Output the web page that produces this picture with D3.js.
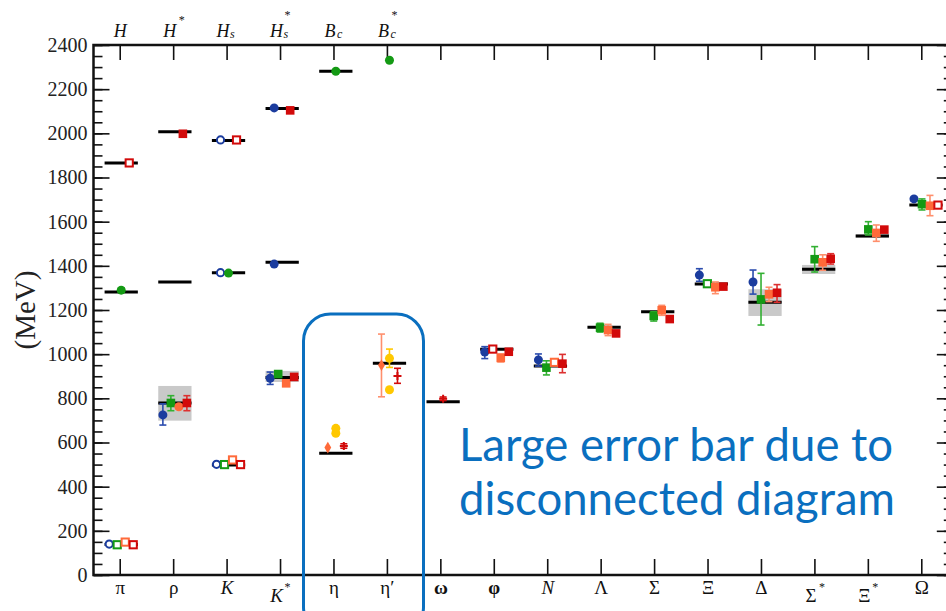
<!DOCTYPE html>
<html><head><meta charset="utf-8">
<script src="https://cdn.jsdelivr.net/npm/d3@7"></script>
<style>body{margin:0;background:#fff}svg{display:block}</style>
</head><body>
<svg id="c" width="946" height="611"></svg>
<script>
// ---------- data ----------
const categories = ["π","ρ","K","K*","η","η′","ω","φ","N","Λ","Σ","Ξ","Δ","Σ*","Ξ*","Ω"];
const italicCats = ["K","K*","N"];
const topLabels = [
  {c:"π", base:"H", sub:"", sup:""},
  {c:"ρ", base:"H", sub:"", sup:"*"},
  {c:"K", base:"H", sub:"s", sup:""},
  {c:"K*", base:"H", sub:"s", sup:"*"},
  {c:"η", base:"B", sub:"c", sup:""},
  {c:"η′", base:"B", sub:"c", sup:"*"}
];
const yTicks = [0,200,400,600,800,1000,1200,1400,1600,1800,2000,2200,2400];
const yMinorTicks = d3.range(0, 2401, 50);

// experimental masses (black bars)
const expLines = [
  ["π",138],["π",1281],["π",1866],["ρ",779],["ρ",1327],["ρ",2007],
  ["K",498],["K",1369],["K",1968],["K*",894],["K*",1416],["K*",2113],
  ["η",551],["η",2281],["η′",959],["ω",785],["φ",1022],["N",946],
  ["Λ",1122],["Σ",1192],["Ξ",1318],["Δ",1235],["Σ*",1384],["Ξ*",1535],["Ω",1675]
];
// widths (grey bands)
const widthBands = [["ρ",699,856],["K*",874,924],["Δ",1173,1294],["Σ*",1363,1404],["Ξ*",1527,1543]];

// lattice results: category, value, error low, error high, marker, open, dodge slot
const bluePts = [
  {c:"π",v:140,shape:"circle",open:1,slot:-1.5},
  {c:"ρ",v:725,lo:679,hi:775,shape:"circle",slot:-1.5},
  {c:"K",v:501,shape:"circle",open:1,slot:-1.5},
  {c:"K*",v:891,lo:863,hi:919,shape:"circle",slot:-1.5},
  {c:"φ",v:1010,lo:980,hi:1034,shape:"circle",slot:-1.5},
  {c:"N",v:974,lo:946,hi:1001,shape:"circle",slot:-1.5},
  {c:"Ξ",v:1358,lo:1330,hi:1387,shape:"circle",slot:-1.5},
  {c:"Δ",v:1327,lo:1272,hi:1381,shape:"circle",slot:-1.5},
  {c:"Ω",v:1703,lo:1694,hi:1710,shape:"circle",slot:-1.5},
  {c:"K",v:1369,shape:"circle",open:1,slot:-1},
  {c:"K*",v:1408,shape:"circle",slot:-1},
  {c:"K",v:1970,shape:"circle",open:1,slot:-1},
  {c:"K*",v:2115,shape:"circle",slot:-1}
];
const greenPts = [
  {c:"π",v:137,shape:"square",open:1,slot:-0.5},
  {c:"ρ",v:779,lo:744,hi:812,shape:"square",slot:-0.5},
  {c:"K",v:500,shape:"square",open:1,slot:-0.5},
  {c:"K*",v:910,shape:"square",slot:-0.5},
  {c:"N",v:939,lo:906,hi:970,shape:"square",slot:-0.5},
  {c:"Λ",v:1120,lo:1100,hi:1140,shape:"square",slot:-0.5},
  {c:"Σ",v:1173,lo:1150,hi:1192,shape:"square",slot:-0.5},
  {c:"Ξ",v:1319,shape:"square",open:1,slot:-0.5},
  {c:"Δ",v:1248,lo:1132,hi:1366,shape:"square",slot:-0.5},
  {c:"Σ*",v:1430,lo:1372,hi:1487,shape:"square",slot:-0.5},
  {c:"Ξ*",v:1565,lo:1540,hi:1600,shape:"square",slot:-0.5},
  {c:"Ω",v:1679,lo:1653,hi:1703,shape:"square",slot:-0.5},
  {c:"π",v:1290,lo:1280,hi:1300,shape:"circle",slot:0},
  {c:"K",v:1367,shape:"circle",slot:0},
  {c:"η",v:2281,shape:"circle",slot:0},
  {c:"η′",v:2331,shape:"circle",slot:0}
];
const orangePts = [
  {c:"π",v:149,shape:"square",open:1,slot:0.5},
  {c:"ρ",v:762,lo:752,hi:772,shape:"circle",slot:0.5},
  {c:"K",v:521,shape:"square",open:1,slot:0.5},
  {c:"K*",v:868,lo:857,hi:880,shape:"square",slot:0.5},
  {c:"φ",v:983,lo:965,hi:1001,shape:"square",slot:0.5},
  {c:"N",v:963,lo:950,hi:977,shape:"square",open:1,slot:0.5},
  {c:"Λ",v:1109,lo:1084,hi:1135,shape:"square",slot:0.5},
  {c:"Σ",v:1199,lo:1176,hi:1221,shape:"square",slot:0.5},
  {c:"Ξ",v:1303,lo:1274,hi:1327,shape:"square",slot:0.5},
  {c:"Δ",v:1271,lo:1238,hi:1303,shape:"square",slot:0.5},
  {c:"Σ*",v:1416,lo:1380,hi:1450,shape:"square",slot:0.5},
  {c:"Ξ*",v:1549,lo:1511,hi:1585,shape:"square",slot:0.5},
  {c:"Ω",v:1672,lo:1627,hi:1719,shape:"square",slot:0.5},
  {c:"η",v:577,shape:"diamond",slot:-1},
  {c:"η′",v:950,lo:807,hi:1091,shape:"diamond",slot:-1}
];
const redPts = [
  {c:"π",v:137,shape:"square",open:1,slot:1.5},
  {c:"ρ",v:779,lo:744,hi:812,shape:"square",slot:1.5},
  {c:"K",v:500,shape:"square",open:1,slot:1.5},
  {c:"K*",v:897,shape:"square",slot:1.5},
  {c:"φ",v:1023,lo:1013,hi:1033,shape:"square",open:1,slot:-0.5},
  {c:"φ",v:1011,shape:"square",slot:1.5},
  {c:"N",v:957,lo:916,hi:999,shape:"square",slot:1.5},
  {c:"Λ",v:1094,shape:"square",slot:1.5},
  {c:"Σ",v:1159,shape:"square",slot:1.5},
  {c:"Ξ",v:1306,shape:"square",slot:1.5},
  {c:"Δ",v:1278,lo:1235,hi:1315,shape:"square",slot:1.5},
  {c:"Σ*",v:1432,lo:1408,hi:1455,shape:"square",slot:1.5},
  {c:"Ξ*",v:1564,shape:"square",slot:1.5},
  {c:"Ω",v:1675,shape:"square",open:1,slot:1.5},
  {c:"π",v:1866,shape:"square",open:1,slot:1},
  {c:"ρ",v:1998,shape:"square",slot:1},
  {c:"K",v:1970,shape:"square",open:1,slot:1},
  {c:"K*",v:2104,shape:"square",slot:1}
];
const yellowPts = [
  {c:"η",v:664,shape:"circle",slot:0},
  {c:"η",v:642,shape:"circle",slot:0},
  {c:"η′",v:981,lo:940,hi:1023,shape:"circle",slot:0},
  {c:"η′",v:839,shape:"circle",slot:0}
];
const crossPts = [
  {c:"η",v:584,lo:574,hi:594,shape:"cross",slot:1},
  {c:"η′",v:901,lo:868,hi:936,shape:"cross",slot:1},
  {c:"ω",v:798,lo:790,hi:806,shape:"cross",slot:0}
];
const annotation = ["Large error bar due to","disconnected diagram"];

// ---------- layout ----------
const svg = d3.select("#c");
const L = 93.5, T = 45, B = 575;
const y = d3.scaleLinear().domain([0,2400]).range([B,T]);
const xAxis = d3.scaleBand().domain(categories).range([L, 948.5]);
const xData = d3.scaleBand().domain(categories).range([94.4, 952.8]);
const R = 952.8;
const cxA = c => xAxis(c) + xAxis.bandwidth()/2;
const cxD = c => xData(c) + xData.bandwidth()/2;
const dodge = 8;
const serif = "'Liberation Serif','Times New Roman',serif";

const series = [
  {pts:bluePts, color:"#1b3c9e", err:"#2b4cae"},
  {pts:greenPts, color:"#149a14", err:"#33b033"},
  {pts:orangePts, color:"#ff6a3a", err:"#ff8f6c"},
  {pts:redPts, color:"#d20a0a", err:"#dd3030"},
  {pts:yellowPts, color:"#ffc800", err:"#ffc800"},
  {pts:crossPts, color:"#d20a0a", err:"#d20a0a"}
];

// grey bands
const lw = xData.bandwidth()*0.62;
svg.append("g").selectAll("rect").data(widthBands).join("rect")
  .attr("x", d => cxD(d[0]) - lw/2).attr("width", lw)
  .attr("y", d => y(d[2])).attr("height", d => y(d[1]) - y(d[2]))
  .attr("fill", "#c9c9c9");

// axes
function styleAxis(g){ g.selectAll(".domain").remove(); g.selectAll("line").attr("stroke","#111").attr("stroke-width",1.6); }
svg.append("g").attr("transform",`translate(${L},0)`)
  .call(d3.axisLeft(y).tickValues(yMinorTicks).tickSize(-9).tickFormat("")).call(styleAxis);
const gl = svg.append("g").attr("transform",`translate(${L},0)`)
  .call(d3.axisLeft(y).tickValues(yTicks).tickSize(-16).tickPadding(6).tickFormat(d3.format("d"))).call(styleAxis);
gl.selectAll("text").attr("font-family",serif).attr("font-size",20).attr("fill","#222");
svg.append("g").attr("transform",`translate(${R},0)`)
  .call(d3.axisRight(y).tickValues(yMinorTicks).tickSize(-9).tickFormat("")).call(styleAxis);
svg.append("g").attr("transform",`translate(${R},0)`)
  .call(d3.axisRight(y).tickValues(yTicks).tickSize(-16).tickFormat("")).call(styleAxis);
svg.append("g").attr("transform",`translate(0,${B})`)
  .call(d3.axisBottom(xAxis).tickSize(-16).tickFormat("")).call(styleAxis);
svg.append("g").attr("transform",`translate(0,${T})`)
  .call(d3.axisTop(xAxis).tickSize(-15).tickFormat("")).call(styleAxis);

// frame
svg.append("path").attr("d",`M${L},${T}V${B}H${R}V${T}Z`).attr("fill","none").attr("stroke","#111").attr("stroke-width",2.5);

// bottom labels
categories.forEach(c => {
  const star = c.endsWith("*");
  const base = star ? c.slice(0,-1) : c;
  const x = cxA(c);
  svg.append("text").attr("font-family",serif).attr("font-size",19).attr("fill","#111")
    .attr("x", star ? x-4 : x).attr("y", star ? 602 : 594).attr("text-anchor","middle")
    .attr("font-style", italicCats.includes(c) ? "italic" : null)
    .attr("font-weight", (c==="ω"||c==="φ") ? "bold" : null)
    .text(base);
  if (star) svg.append("text").attr("font-family",serif).attr("font-size",12).attr("fill","#111")
    .attr("x", x+4).attr("y", 591).text("*");
});
// top labels
topLabels.forEach(d => {
  const x = cxA(d.c);
  const has = d.sub || d.sup;
  svg.append("text").attr("font-family",serif).attr("font-size",18).attr("font-style","italic").attr("fill","#111")
    .attr("x", has ? x-4 : x).attr("y",36.5).attr("text-anchor","middle").text(d.base);
  if (d.sub) svg.append("text").attr("font-family",serif).attr("font-size",12).attr("font-style","italic").attr("fill","#111")
    .attr("x", x+3).attr("y",38).text(d.sub);
  if (d.sup) svg.append("text").attr("font-family",serif).attr("font-size",12).attr("fill","#111")
    .attr("x", x+ (d.sub?4:5)).attr("y",d.sub?19:24).text(d.sup);
});
// y label
svg.append("text").attr("font-family",serif).attr("font-size",29).attr("fill","#222")
  .attr("transform","translate(35,310) rotate(-90)").attr("text-anchor","middle").text("(MeV)");

// experimental lines
svg.append("g").selectAll("line").data(expLines).join("line")
  .attr("x1", d => cxD(d[0]) - lw/2).attr("x2", d => cxD(d[0]) + lw/2)
  .attr("y1", d => y(d[1])).attr("y2", d => y(d[1]))
  .attr("stroke","#000").attr("stroke-width",3);

// points
const px = d => cxD(d.c) + d.slot*dodge;
series.forEach(s => {
  const g = svg.append("g");
  const e = s.pts.filter(d => d.lo != null);
  g.selectAll(".ev").data(e).join("line").attr("x1",px).attr("x2",px)
    .attr("y1",d=>y(d.lo)).attr("y2",d=>y(d.hi)).attr("stroke",s.err).attr("stroke-width",1.6);
  ["lo","hi"].forEach(k => g.selectAll(".c"+k).data(e).join("line")
    .attr("x1",d=>px(d)-3.5).attr("x2",d=>px(d)+3.5).attr("y1",d=>y(d[k])).attr("y2",d=>y(d[k]))
    .attr("stroke",s.err).attr("stroke-width",1.6));
  s.pts.forEach(d => {
    const x = px(d), yy = y(d.v);
    const fill = d.open ? "#fff" : s.color;
    if (d.shape === "circle") {
      g.append("circle").attr("cx",x).attr("cy",yy).attr("r", d.open?3.6:4.5)
        .attr("fill",fill).attr("stroke",s.color).attr("stroke-width",d.open?2:0);
    } else if (d.shape === "square") {
      const h = d.open?7.2:8.6;
      g.append("rect").attr("x",x-h/2).attr("y",yy-h/2).attr("width",h).attr("height",h)
        .attr("fill",fill).attr("stroke",s.color).attr("stroke-width",d.open?2:0);
    } else if (d.shape === "diamond") {
      g.append("path").attr("transform",`translate(${x},${yy})`).attr("d",d3.symbol(d3.symbolDiamond,40)())
        .attr("fill",s.color);
    } else if (d.shape === "cross") {
      g.append("path").attr("transform",`translate(${x},${yy})`).attr("d","M-4,0H4M0,-4V4")
        .attr("stroke",s.color).attr("stroke-width",2);
    }
  });
});

// annotation box
const blue = "#0a6fbf";
svg.append("rect").attr("x",303.5).attr("y",314).attr("width",120).attr("height",320).attr("rx",27)
  .attr("fill","none").attr("stroke",blue).attr("stroke-width",3);
svg.append("g").selectAll("text").data(annotation).join("text")
  .attr("x",459).attr("y",(d,i)=>461+i*54).attr("font-family","Lato, 'Open Sans', sans-serif")
  .attr("font-size",45.5).attr("fill",blue).text(d=>d);
</script>
</body></html>
